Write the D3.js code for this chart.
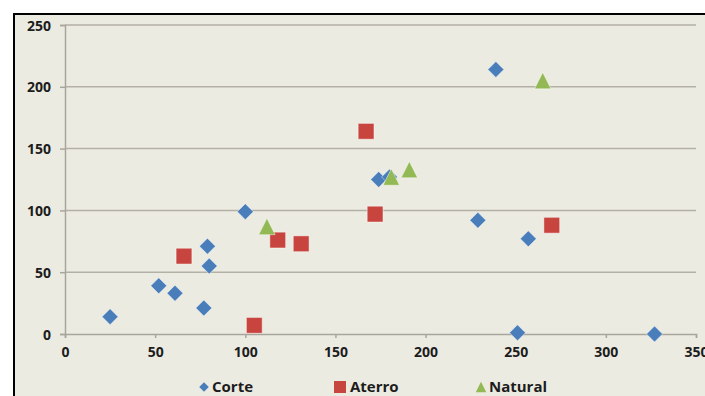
<!DOCTYPE html>
<html lang="pt">
  <head>
    <meta charset="utf-8">
    <title>Corte / Aterro / Natural</title>
    <script src="https://d3js.org/d3.v7.min.js"></script>
    <style>
      body { margin: 0; background: white; }
      svg { display: block; }
      text { font-family: "Open Sans", Lato, sans-serif; font-weight: bold; fill: #1c1c1c; }
    </style>
  </head>
  <body>
    <script>
      // values
      const corteX = [25, 52, 61, 77, 79, 80, 100, 174, 180, 239, 229, 257, 251, 327];
      const corteY = [14, 39, 33, 21, 71, 55, 99, 125, 127, 214, 92, 77, 1, 0];
      const aterroX = [66, 105, 118, 131, 167, 172, 270];
      const aterroY = [63, 7, 76, 73, 164, 97, 88];
      const naturalX = [112, 181, 191, 265];
      const naturalY = [87, 127, 133, 205];
      const xTicks = [0, 50, 100, 150, 200, 250, 300, 350];
      const yTicks = [0, 50, 100, 150, 200, 250];

      // excel-like markers: size = (box width)^2
      const diamond = { draw(ctx, size) {
        const r = Math.sqrt(size) / 2;
        ctx.moveTo(0, -r); ctx.lineTo(r, 0); ctx.lineTo(0, r); ctx.lineTo(-r, 0); ctx.closePath();
      } };
      const triangle = { draw(ctx, size) {
        const r = Math.sqrt(size) / 2;
        ctx.moveTo(0, -r); ctx.lineTo(r, r); ctx.lineTo(-r, r); ctx.closePath();
      } };

      const series = [
        { name: "Corte", xs: corteX, ys: corteY, shape: diamond, size: 256, legendSize: 90, color: "#4a7ebb" },
        { name: "Aterro", xs: aterroX, ys: aterroY, shape: d3.symbolSquare, size: 250, legendSize: 144, color: "#c8453f" },
        { name: "Natural", xs: naturalX, ys: naturalY, shape: triangle, size: 270, legendSize: 110, color: "#93b954" }
      ];

      const width = 705;
      const height = 396;

      const x = d3.scaleLinear().domain([0, 350]).range([65, 696]);
      const y = d3.scaleLinear().domain([0, 250]).range([334, 25]);

      const svg = d3.select("body").append("svg")
                    .attr("width", width)
                    .attr("height", height);

      // chart frame (runs off the right and bottom edge)
      svg.append("rect")
         .attr("x", 14).attr("y", 14)
         .attr("width", width + 20).attr("height", height + 20)
         .attr("fill", "#ecebe2")
         .attr("stroke", "black")
         .attr("stroke-width", 2);

      // gridlines
      svg.append("g").selectAll("line")
         .data(yTicks.filter(d => d > 0))
         .enter().append("line")
         .attr("x1", x(0)).attr("x2", x(350))
         .attr("y1", d => y(d)).attr("y2", d => y(d))
         .attr("stroke", "#b3b0a6")
         .attr("stroke-width", 1.5);

      const yAxis = svg.append("g")
                       .attr("transform", `translate(${x(0)},0)`)
                       .call(d3.axisLeft(y).tickValues(yTicks).tickSize(5).tickPadding(9));
      const xAxis = svg.append("g")
                       .attr("transform", `translate(0,${y(0)})`)
                       .call(d3.axisBottom(x).tickValues(xTicks).tickSize(4).tickPadding(9));

      [xAxis, yAxis].forEach(a => {
        a.select(".domain").attr("stroke", "#a8a69c").attr("stroke-width", 1.5);
        a.selectAll(".tick line").attr("stroke", "#a8a69c").attr("stroke-width", 1.5);
        a.selectAll("text").style("font-size", "14px").attr("fill", "#1c1c1c");
      });
      yAxis.selectAll("text").attr("dy", "0.36em");

      // points
      series.forEach(s => {
        const pts = s.xs.map((v, i) => [v, s.ys[i]]);
        svg.append("g").selectAll("path")
           .data(pts)
           .enter().append("path")
           .attr("transform", d => `translate(${x(d[0])},${y(d[1])})`)
           .attr("d", d3.symbol().type(s.shape).size(s.size))
           .attr("fill", s.color)
           .attr("stroke", "rgba(255,255,255,0.45)")
           .attr("stroke-width", 1);
      });

      // legend
      const legendX = [204, 340, 481];
      const legend = svg.append("g").selectAll("g")
                        .data(series)
                        .enter().append("g")
                        .attr("transform", (d, i) => `translate(${legendX[i]},387)`);
      legend.append("path")
            .attr("d", d => d3.symbol().type(d.shape).size(d.legendSize)())
            .attr("fill", d => d.color);
      legend.append("text")
            .attr("x", d => d.name === "Aterro" ? 10 : 8)
            .attr("dy", "0.36em")
            .style("font-size", "15px")
            .text(d => d.name);
    </script>
  </body>
</html>
